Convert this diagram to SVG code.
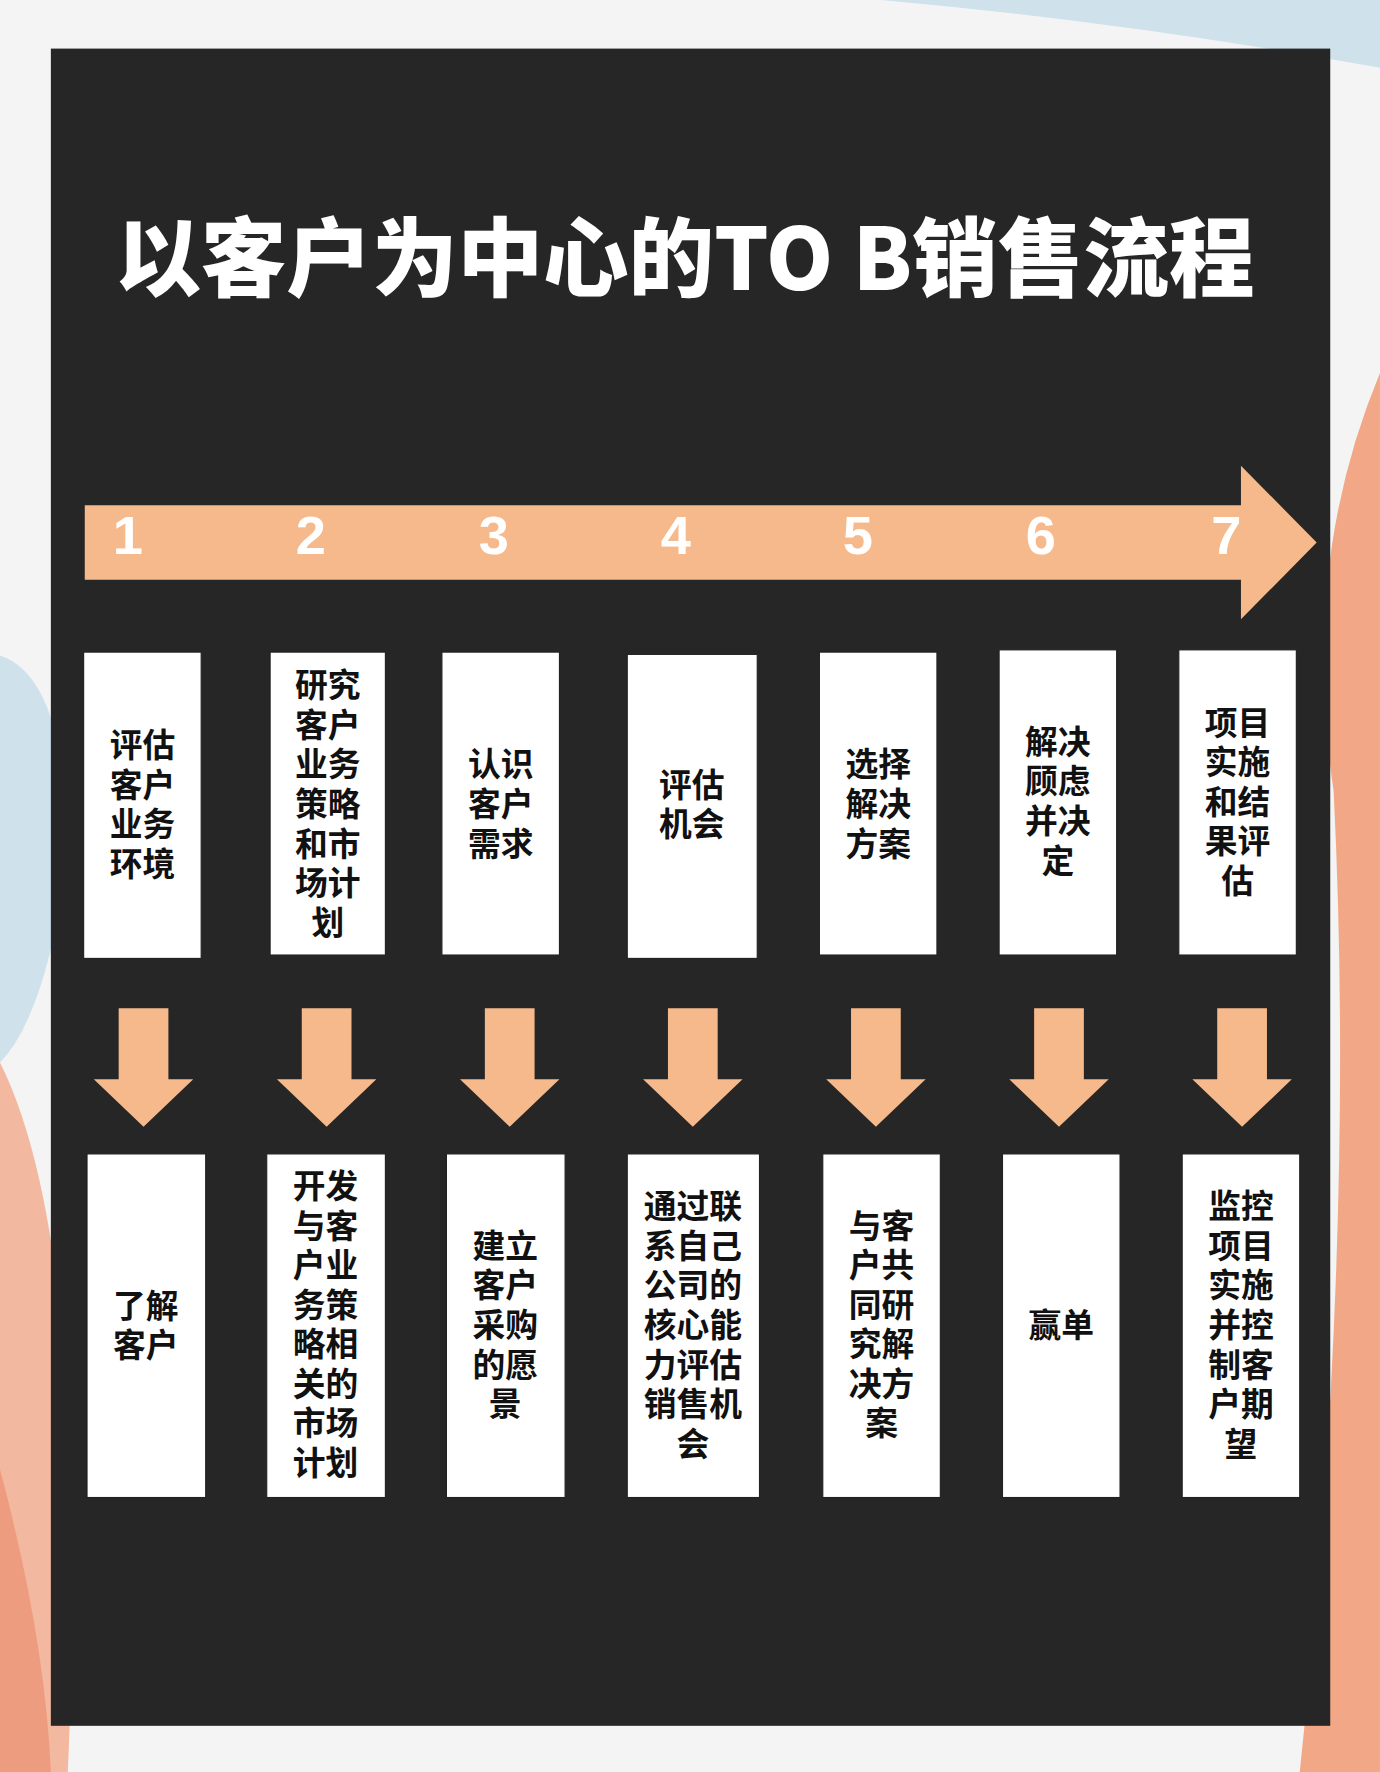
<svg xmlns="http://www.w3.org/2000/svg" width="1380" height="1772" viewBox="0 0 1380 1772">
<style>
.t{font-family:"Noto Sans CJK SC","Liberation Sans",sans-serif;font-weight:bold;font-size:29px;fill:#111;text-anchor:middle}
.n{font-family:"Liberation Sans",sans-serif;font-weight:bold;font-size:48px;fill:#fff;text-anchor:middle}
.b{fill:#fff;stroke:#222;stroke-width:1}
.a{fill:#F6B98B}
</style>
<defs><path id="da" d="M-22 0H22V63H44L0 105L-44 63H-22Z"/></defs>
<g transform="scale(1.1302)">
<g id="bg">
<rect width="1221" height="1568" fill="#F4F4F4"/>
<path d="M780 0H1221V60Q1000 20 780 0Z" fill="#CFE1EA"/>
<path d="M1221 330Q1150 500 1180 700Q1200 1100 1150 1568H1221Z" fill="#F2A886"/>
<path d="M0 580Q60 600 60 760Q40 900 0 940Z" fill="#CFE1EA"/>
<path d="M0 940Q80 1100 60 1568H0Z" fill="#F3B9A0"/>
<path d="M0 1300Q40 1450 45 1568H0Z" fill="#EE9C80"/>
</g>
<rect id="panel" x="45" y="43" width="1132" height="1484" fill="#262626"/>
<text id="title" x="606" y="257" textLength="1008" lengthAdjust="spacingAndGlyphs" style="font-family:'Noto Sans CJK SC','Liberation Sans',sans-serif;font-weight:900;font-size:76px;fill:#fff;text-anchor:middle">以客户为中心的TO B销售流程</text>
<g id="connectors">
<path class="a" d="M75 447H1098V412L1165 480L1098 548V513H75Z"/>
<use href="#da" class="a" x="127" y="892"/>
<use href="#da" class="a" x="289" y="892"/>
<use href="#da" class="a" x="451" y="892"/>
<use href="#da" class="a" x="613" y="892"/>
<use href="#da" class="a" x="775" y="892"/>
<use href="#da" class="a" x="937" y="892"/>
<use href="#da" class="a" x="1099" y="892"/>
</g>
<g id="numbers">
<text class="n" x="113" y="490">1</text><text class="n" x="275" y="490">2</text><text class="n" x="437" y="490">3</text><text class="n" x="598" y="490">4</text><text class="n" x="759" y="490">5</text><text class="n" x="921" y="490">6</text><text class="n" x="1085" y="490">7</text>
</g>
<g id="top1"><rect class="b" x="74" y="577" width="104" height="271"/><text class="t" y="670"><tspan x="126">评估</tspan><tspan x="126" dy="35">客户</tspan><tspan x="126" dy="35">业务</tspan><tspan x="126" dy="35">环境</tspan></text></g>
<g id="top2"><rect class="b" x="239" y="577" width="102" height="268"/><text class="t" y="617"><tspan x="290">研究</tspan><tspan x="290" dy="35">客户</tspan><tspan x="290" dy="35">业务</tspan><tspan x="290" dy="35">策略</tspan><tspan x="290" dy="35">和市</tspan><tspan x="290" dy="35">场计</tspan><tspan x="290" dy="35">划</tspan></text></g>
<g id="top3"><rect class="b" x="391" y="577" width="104" height="268"/><text class="t" y="687"><tspan x="443">认识</tspan><tspan x="443" dy="35">客户</tspan><tspan x="443" dy="35">需求</tspan></text></g>
<g id="top4"><rect class="b" x="555" y="579" width="115" height="269"/><text class="t" y="705"><tspan x="612">评估</tspan><tspan x="612" dy="35">机会</tspan></text></g>
<g id="top5"><rect class="b" x="725" y="577" width="104" height="268"/><text class="t" y="687"><tspan x="777">选择</tspan><tspan x="777" dy="35">解决</tspan><tspan x="777" dy="35">方案</tspan></text></g>
<g id="top6"><rect class="b" x="884" y="575" width="104" height="270"/><text class="t" y="667"><tspan x="936">解决</tspan><tspan x="936" dy="35">顾虑</tspan><tspan x="936" dy="35">并决</tspan><tspan x="936" dy="35">定</tspan></text></g>
<g id="top7"><rect class="b" x="1043" y="575" width="104" height="270"/><text class="t" y="650"><tspan x="1095">项目</tspan><tspan x="1095" dy="35">实施</tspan><tspan x="1095" dy="35">和结</tspan><tspan x="1095" dy="35">果评</tspan><tspan x="1095" dy="35">估</tspan></text></g>
<g id="bot1"><rect class="b" x="77" y="1021" width="105" height="304"/><text class="t" y="1166"><tspan x="129">了解</tspan><tspan x="129" dy="35">客户</tspan></text></g>
<g id="bot2"><rect class="b" x="236" y="1021" width="105" height="304"/><text class="t" y="1060"><tspan x="288">开发</tspan><tspan x="288" dy="35">与客</tspan><tspan x="288" dy="35">户业</tspan><tspan x="288" dy="35">务策</tspan><tspan x="288" dy="35">略相</tspan><tspan x="288" dy="35">关的</tspan><tspan x="288" dy="35">市场</tspan><tspan x="288" dy="35">计划</tspan></text></g>
<g id="bot3"><rect class="b" x="395" y="1021" width="105" height="304"/><text class="t" y="1113"><tspan x="447">建立</tspan><tspan x="447" dy="35">客户</tspan><tspan x="447" dy="35">采购</tspan><tspan x="447" dy="35">的愿</tspan><tspan x="447" dy="35">景</tspan></text></g>
<g id="bot4"><rect class="b" x="555" y="1021" width="117" height="304"/><text class="t" y="1078"><tspan x="613">通过联</tspan><tspan x="613" dy="35">系自己</tspan><tspan x="613" dy="35">公司的</tspan><tspan x="613" dy="35">核心能</tspan><tspan x="613" dy="35">力评估</tspan><tspan x="613" dy="35">销售机</tspan><tspan x="613" dy="35">会</tspan></text></g>
<g id="bot5"><rect class="b" x="728" y="1021" width="104" height="304"/><text class="t" y="1095"><tspan x="780">与客</tspan><tspan x="780" dy="35">户共</tspan><tspan x="780" dy="35">同研</tspan><tspan x="780" dy="35">究解</tspan><tspan x="780" dy="35">决方</tspan><tspan x="780" dy="35">案</tspan></text></g>
<g id="bot6"><rect class="b" x="887" y="1021" width="104" height="304"/><text class="t" y="1183"><tspan x="939">赢单</tspan></text></g>
<g id="bot7"><rect class="b" x="1046" y="1021" width="104" height="304"/><text class="t" y="1078"><tspan x="1098">监控</tspan><tspan x="1098" dy="35">项目</tspan><tspan x="1098" dy="35">实施</tspan><tspan x="1098" dy="35">并控</tspan><tspan x="1098" dy="35">制客</tspan><tspan x="1098" dy="35">户期</tspan><tspan x="1098" dy="35">望</tspan></text></g>
</g>
</svg>
